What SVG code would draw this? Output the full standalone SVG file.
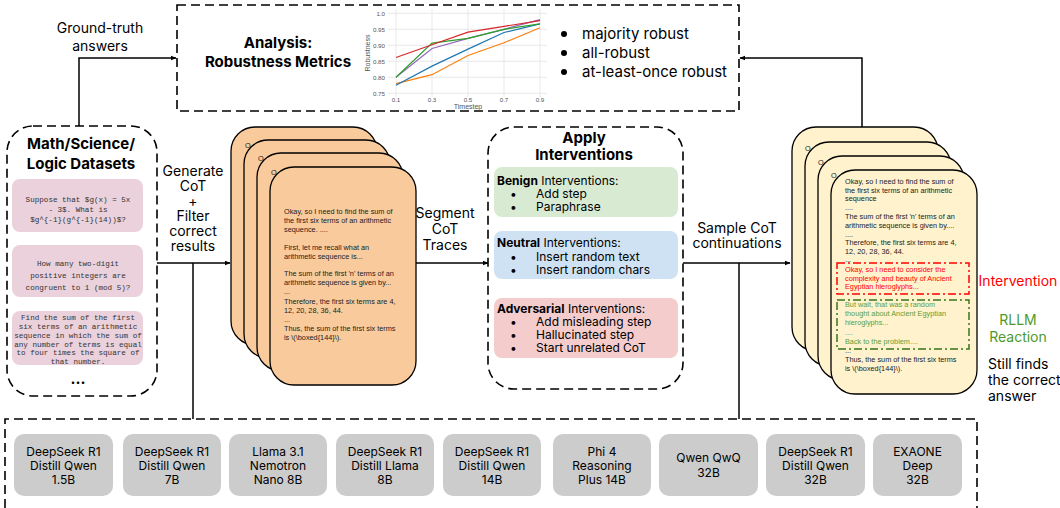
<svg xmlns="http://www.w3.org/2000/svg" width="1060" height="508" viewBox="0 0 1060 508">
<style>
.lbl{font-family:Inter,"Noto Sans",sans-serif;font-size:14px;fill:#000}
.ttl{font-family:Inter,"Noto Sans",sans-serif;font-size:15px;font-weight:bold;fill:#000}
.dash{fill:none;stroke:#000;stroke-width:1.6;stroke-dasharray:9 5}
.mono{font-family:"Liberation Mono",monospace;font-size:7.6px;fill:#333}
.pink{fill:#ead1dc}
.card{stroke:#000;stroke-width:1.3}
.org{fill:#f9cb9c}
.yel{fill:#fff2cc}
.ct{font-family:"Liberation Sans",Arial,sans-serif;font-size:7.3px;fill:#222}
.iv{font-family:Inter,"Noto Sans",sans-serif;font-size:12px;fill:#000}
.mb{fill:#cccccc}
.mt{font-family:Inter,"Noto Sans",sans-serif;font-size:12px;fill:#000;text-anchor:middle}
.con{fill:none;stroke:#000;stroke-width:1.5}
.tick{font-family:"Liberation Sans",Arial,sans-serif;font-size:6.2px;fill:#555}
.grid{stroke:#e3e3e3;stroke-width:0.8}
.pl{fill:none;stroke-width:1.2}
</style>
<defs>
<marker id="ah" viewBox="0 0 10 10" refX="9" refY="5" markerWidth="6" markerHeight="6" orient="auto" markerUnits="userSpaceOnUse">
<path d="M0,1 L10,5 L0,9 Z" fill="#000"/>
</marker>
</defs>
<rect width="1060" height="508" fill="#fff"/>

<g id="connectors">
<path class="con" d="M79,126 V58 H176" marker-end="url(#ah)"/>
<path class="con" d="M862,127 V58 H740" marker-end="url(#ah)"/>
<path class="con" d="M157,263 H230" marker-end="url(#ah)"/>
<path class="con" d="M193,263 V419"/>
<path class="con" d="M416,263 H488" marker-end="url(#ah)"/>
<path class="con" d="M683,263 H790" marker-end="url(#ah)"/>
<path class="con" d="M739,263 V419"/>
</g>

<g id="edge-labels">
<text class="lbl" font-size="14.5" text-anchor="middle" x="100" y="33">Ground-truth</text>
<text class="lbl" font-size="14.5" text-anchor="middle" x="100" y="51">answers</text>
<g font-size="13.5">
<text class="lbl" font-size="13.5" text-anchor="middle" x="193" y="176">Generate</text>
<text class="lbl" font-size="13.5" text-anchor="middle" x="193" y="191">CoT</text>
<text class="lbl" font-size="13.5" text-anchor="middle" x="193" y="206">+</text>
<text class="lbl" font-size="13.5" text-anchor="middle" x="193" y="221">Filter</text>
<text class="lbl" font-size="13.5" text-anchor="middle" x="193" y="236">correct</text>
<text class="lbl" font-size="13.5" text-anchor="middle" x="193" y="251">results</text>
</g>
<text class="lbl" text-anchor="middle" x="445" y="218">Segment</text>
<text class="lbl" text-anchor="middle" x="445" y="234">CoT</text>
<text class="lbl" text-anchor="middle" x="445" y="250">Traces</text>
<text class="lbl" text-anchor="middle" x="737" y="233">Sample CoT</text>
<text class="lbl" text-anchor="middle" x="737" y="248">continuations</text>
</g>

<g id="analysis">
<rect class="dash" x="177" y="5" width="562" height="106"/>
<text class="ttl" text-anchor="middle" x="278" y="48">Analysis:</text>
<text class="ttl" text-anchor="middle" x="278" y="67">Robustness Metrics</text>
<g id="chart">
<rect x="388" y="9" width="159" height="88" fill="#fff"/>
<g class="grid">
<line x1="388" y1="13.3" x2="547" y2="13.3"/>
<line x1="388" y1="29.3" x2="547" y2="29.3"/>
<line x1="388" y1="45.3" x2="547" y2="45.3"/>
<line x1="388" y1="61.3" x2="547" y2="61.3"/>
<line x1="388" y1="77.3" x2="547" y2="77.3"/>
<line x1="388" y1="93.3" x2="547" y2="93.3"/>
<line x1="396" y1="9" x2="396" y2="97"/>
<line x1="432" y1="9" x2="432" y2="97"/>
<line x1="468" y1="9" x2="468" y2="97"/>
<line x1="504" y1="9" x2="504" y2="97"/>
<line x1="540" y1="9" x2="540" y2="97"/>
</g>
<polyline class="pl" stroke="#ff7f0e" points="396,83.7 432,74.7 468,55.5 504,42.7 540,27.7"/>
<polyline class="pl" stroke="#1f77b4" points="396,85.3 432,66.1 468,49.1 504,32.5 540,23.9"/>
<polyline class="pl" stroke="#9467bd" points="396,77.3 432,48.5 468,38.3 504,29.3 540,19.7"/>
<polyline class="pl" stroke="#2ca02c" points="396,77.3 432,43.1 468,38.3 504,29.3 540,23.9"/>
<polyline class="pl" stroke="#d62728" points="396,57.5 432,44.7 468,32.2 504,26.4 540,20.7"/>
<g class="tick" text-anchor="end">
<text x="385" y="15.5">1.0</text>
<text x="385" y="31.5">0.95</text>
<text x="385" y="47.5">0.90</text>
<text x="385" y="63.5">0.85</text>
<text x="385" y="79.5">0.80</text>
<text x="385" y="95.5">0.75</text>
</g>
<g class="tick" text-anchor="middle">
<text x="396" y="101.5">0.1</text>
<text x="432" y="101.5">0.3</text>
<text x="468" y="101.5">0.5</text>
<text x="504" y="101.5">0.7</text>
<text x="540" y="101.5">0.9</text>
<text x="468" y="109" font-size="7">Timestep</text>
<text x="0" y="0" font-size="7" transform="translate(370,53) rotate(-90)">Robustness</text>
</g>
</g>
<g class="lbl" font-size="15">
<circle cx="564" cy="34" r="3"/>
<circle cx="564" cy="53" r="3"/>
<circle cx="564" cy="72" r="3"/>
<text x="582" y="39" font-size="15">majority robust</text>
<text x="582" y="58" font-size="15">all-robust</text>
<text x="582" y="77" font-size="15">at-least-once robust</text>
</g>
</g>

<g id="datasets">
<rect class="dash" x="7" y="126" width="150" height="270" rx="26"/>
<text class="ttl" font-size="16" text-anchor="middle" x="81" y="149">Math/Science/</text>
<text class="ttl" font-size="16" text-anchor="middle" x="81" y="169">Logic Datasets</text>
<rect class="pink" x="12" y="179" width="131" height="53" rx="8"/>
<text class="mono" text-anchor="middle" x="78" y="202">Suppose that $g(x) = 5x</text>
<text class="mono" text-anchor="middle" x="78" y="212">- 3$. What is</text>
<text class="mono" text-anchor="middle" x="78" y="222">$g^{-1}(g^{-1}(14))$?</text>
<rect class="pink" x="12" y="245" width="131" height="52" rx="8"/>
<text class="mono" text-anchor="middle" x="78" y="266">How many two-digit</text>
<text class="mono" text-anchor="middle" x="78" y="278">positive integers are</text>
<text class="mono" text-anchor="middle" x="78" y="290">congruent to 1 (mod 5)?</text>
<rect class="pink" x="12" y="311" width="131" height="54" rx="8"/>
<g class="mono" font-size="7.1" text-anchor="middle">
<text x="78" y="320">Find the sum of the first</text>
<text x="78" y="329">six terms of an arithmetic</text>
<text x="78" y="338">sequence in which the sum of</text>
<text x="78" y="346.5">any number of terms is equal</text>
<text x="78" y="355">to four times the square of</text>
<text x="78" y="363.5">that number.</text>
</g>
<text class="ttl" text-anchor="middle" x="78" y="384">...</text>
</g>

<g id="cot-stack">
<rect class="card org" x="231" y="127" width="146" height="218" rx="24"/>
<text class="ct" x="245" y="148">O</text>
<rect class="card org" x="244" y="140" width="146" height="218" rx="24"/>
<text class="ct" x="258" y="161">O</text>
<rect class="card org" x="257" y="153" width="146" height="218" rx="24"/>
<text class="ct" x="271" y="174.5">O</text>
<rect class="card org" x="270" y="167" width="146" height="218" rx="24"/>
<g class="ct">
<text x="284" y="214">Okay, so I need to find the sum of</text>
<text x="284" y="223">the first six terms of an arithmetic</text>
<text x="284" y="232">sequence. ....</text>
<text x="284" y="250">First, let me recall what an</text>
<text x="284" y="259">arithmetic sequence is...</text>
<text x="284" y="276">The sum of the first 'n' terms of an</text>
<text x="284" y="285">arithmetic sequence is given by...</text>
<text x="284" y="294">...</text>
<text x="284" y="304">Therefore, the first six terms are 4,</text>
<text x="284" y="313">12, 20, 28, 36, 44.</text>
<text x="284" y="322">...</text>
<text x="284" y="331">Thus, the sum of the first six terms</text>
<text x="284" y="340">is \(\boxed{144}\).</text>
</g>
</g>

<g id="interventions">
<rect class="dash" x="488" y="127" width="195" height="262" rx="26"/>
<text class="ttl" font-size="16" text-anchor="middle" x="584" y="143">Apply</text>
<text class="ttl" font-size="16" text-anchor="middle" x="584" y="160">Interventions</text>
<rect x="494" y="167" width="184" height="50" rx="8" fill="#d9ead3"/>
<text class="iv" font-size="12.5" x="497" y="185"><tspan font-weight="bold">Benign</tspan> Interventions:</text>
<text class="iv" x="510" y="198">•</text><text class="iv" x="536" y="198">Add step</text>
<text class="iv" x="510" y="211">•</text><text class="iv" x="536" y="211">Paraphrase</text>
<rect x="494" y="231" width="184" height="48" rx="8" fill="#cfe2f3"/>
<text class="iv" font-size="12.5" x="497" y="247"><tspan font-weight="bold">Neutral</tspan> Interventions:</text>
<text class="iv" x="510" y="261">•</text><text class="iv" x="536" y="261">Insert random text</text>
<text class="iv" x="510" y="274">•</text><text class="iv" x="536" y="274">Insert random chars</text>
<rect x="494" y="298" width="184" height="60" rx="8" fill="#f4cccc"/>
<text class="iv" font-size="12.5" x="497" y="313"><tspan font-weight="bold">Adversarial</tspan> Interventions:</text>
<text class="iv" x="510" y="326">•</text><text class="iv" x="536" y="326">Add misleading step</text>
<text class="iv" x="510" y="339">•</text><text class="iv" x="536" y="339">Hallucinated step</text>
<text class="iv" x="510" y="352">•</text><text class="iv" x="536" y="352">Start unrelated CoT</text>
</g>

<g id="continuation-stack">
<rect class="card yel" x="792" y="127" width="146" height="224" rx="24"/>
<text class="ct" x="805" y="151">O</text>
<rect class="card yel" x="805" y="142" width="146" height="224" rx="24"/>
<text class="ct" x="818" y="165">O</text>
<rect class="card yel" x="818" y="156" width="146" height="224" rx="24"/>
<text class="ct" x="831" y="178">O</text>
<rect class="card yel" x="831" y="170" width="146" height="224" rx="24"/>
<g class="ct">
<text x="845" y="184">Okay, so I need to find the sum of</text>
<text x="845" y="192.5">the first six terms of an arithmetic</text>
<text x="845" y="201">sequence</text>
<text x="845" y="210">....</text>
<text x="845" y="219">The sum of the first 'n' terms of an</text>
<text x="845" y="228">arithmetic sequence is given by....</text>
<text x="845" y="236.5">....</text>
<text x="845" y="245">Therefore, the first six terms are 4,</text>
<text x="845" y="253.5">12, 20, 28, 36, 44.</text>
<text x="845" y="262">...</text>
<text x="845" y="353">...</text>
<text x="845" y="362">Thus, the sum of the first six terms</text>
<text x="845" y="370.5">is \(\boxed{144}\).</text>
</g>
<rect x="837" y="263" width="132" height="31" fill="#fff2cc" stroke="#ff0000" stroke-width="1.5" stroke-dasharray="8 3 2 3"/>
<g class="ct" style="fill:#ff0000">
<text x="845" y="272">Okay, so I need to consider the</text>
<text x="845" y="280.5">complexity and beauty of Ancient</text>
<text x="845" y="289">Egyptian hieroglyphs...</text>
</g>
<rect x="837" y="300" width="132" height="49" fill="none" stroke="#38761d" stroke-width="1.5" stroke-dasharray="8 3 2 3"/>
<g class="ct" style="fill:#5c9e3c">
<text x="845" y="307">But wait, that was a random</text>
<text x="845" y="316">thought about Ancient Egyptian</text>
<text x="845" y="325">hieroglyphs...</text>
<text x="845" y="334.5">....</text>
<text x="845" y="343.5">Back to the problem....</text>
</g>
</g>

<g id="annotations">
<text class="lbl" text-anchor="middle" x="1018" y="286" style="fill:#ff0000">Intervention</text>
<text class="lbl" text-anchor="middle" x="1018" y="325" style="fill:#4e9a2c">RLLM</text>
<text class="lbl" text-anchor="middle" x="1018" y="342" style="fill:#4e9a2c">Reaction</text>
<text class="lbl" font-size="13.5" x="988" y="369">Still finds</text>
<text class="lbl" font-size="13.5" x="988" y="385">the correct</text>
<text class="lbl" font-size="13.5" x="988" y="401">answer</text>
</g>

<g id="models">
<path class="dash" d="M5,508 V419 H977 V508"/>
<g id="m1"><rect class="mb" x="14" y="434" width="99" height="62" rx="10"/>
<text class="mt" x="63.5" y="456">DeepSeek R1</text><text class="mt" x="63.5" y="470">Distill Qwen</text><text class="mt" x="63.5" y="484">1.5B</text></g>
<g id="m2"><rect class="mb" x="123" y="434" width="98" height="62" rx="10"/>
<text class="mt" x="172" y="456">DeepSeek R1</text><text class="mt" x="172" y="470">Distill Qwen</text><text class="mt" x="172" y="484">7B</text></g>
<g id="m3"><rect class="mb" x="229" y="434" width="98" height="62" rx="10"/>
<text class="mt" x="278" y="456">Llama 3.1</text><text class="mt" x="278" y="470">Nemotron</text><text class="mt" x="278" y="484">Nano 8B</text></g>
<g id="m4"><rect class="mb" x="336" y="434" width="98" height="62" rx="10"/>
<text class="mt" x="385" y="456">DeepSeek R1</text><text class="mt" x="385" y="470">Distill Llama</text><text class="mt" x="385" y="484">8B</text></g>
<g id="m5"><rect class="mb" x="443" y="434" width="98" height="62" rx="10"/>
<text class="mt" x="492" y="456">DeepSeek R1</text><text class="mt" x="492" y="470">Distill Qwen</text><text class="mt" x="492" y="484">14B</text></g>
<g id="m6"><rect class="mb" x="553" y="434" width="98" height="62" rx="10"/>
<text class="mt" x="602" y="456">Phi 4</text><text class="mt" x="602" y="470">Reasoning</text><text class="mt" x="602" y="484">Plus 14B</text></g>
<g id="m7"><rect class="mb" x="659" y="434" width="99" height="62" rx="10"/>
<text class="mt" x="708.5" y="462">Qwen QwQ</text><text class="mt" x="708.5" y="477">32B</text></g>
<g id="m8"><rect class="mb" x="766" y="434" width="99" height="62" rx="10"/>
<text class="mt" x="815.5" y="456">DeepSeek R1</text><text class="mt" x="815.5" y="470">Distill Qwen</text><text class="mt" x="815.5" y="484">32B</text></g>
<g id="m9"><rect class="mb" x="873" y="434" width="89" height="62" rx="10"/>
<text class="mt" x="917.5" y="456">EXAONE</text><text class="mt" x="917.5" y="470">Deep</text><text class="mt" x="917.5" y="484">32B</text></g>
</g>
</svg>
